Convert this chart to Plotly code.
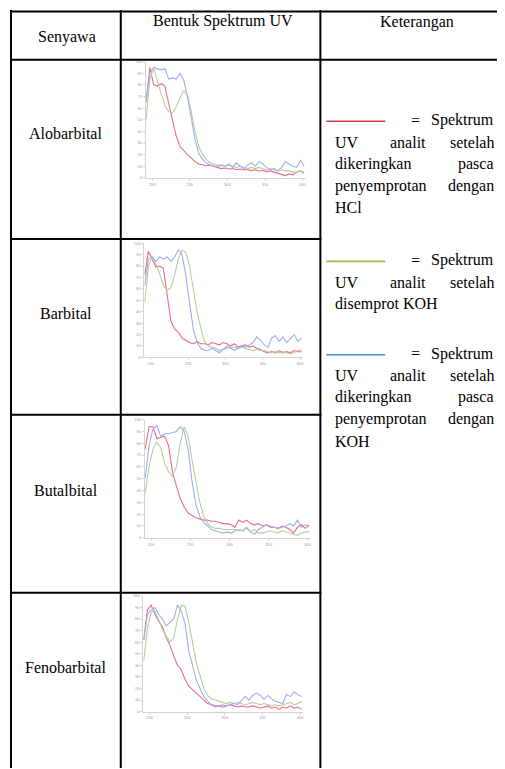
import plotly.graph_objects as go

# page body adds an 8px margin, so the figure is placed at (8, 8)
OFF = 8
W, H = 505 - OFF, 769 - OFF

# ---------------- data ----------------
wavelength = [192, 197, 202, 207, 212, 217, 222, 227, 232, 237, 242, 247, 252, 257, 262,
              267, 272, 277, 282, 287, 292, 297, 302, 307, 312, 317, 322, 327, 332, 337,
              342, 347, 352, 357, 362, 367, 372, 377, 382, 387, 392, 397, 402]

compounds = ["Alobarbital", "Barbital", "Butalbital", "Fenobarbital"]

# red: dried after HCl spray
alobarbital_hcl = [65, 95, 80, 79, 81, 79, 64, 49, 36, 27, 23, 20, 17, 14, 12, 11, 10.5, 11, 10, 9,
                   8, 8.5, 7.7, 8, 7, 7.7, 7, 7, 6.3, 7, 6, 6.5, 5.4, 6, 5, 4.3, 3, 2, 3.4, 2.6,
                   5, 6, 4.3]
# green: sprayed with KOH
alobarbital_koh = [50, 85, 94, 83, 71, 62, 57, 56, 61, 69, 75, 71, 57, 40, 27, 20, 16, 13, 12, 11,
                   11, 10, 11, 10, 9, 10, 9, 8, 9, 8, 9, 8, 7, 8, 7, 6, 7, 6, 6, 5, 5, 6, 5]
# blue: dried after KOH spray
alobarbital_koh_dry = [66, 90, 95, 94, 93, 94, 85, 86, 85, 90, 84, 70, 50, 33, 21, 16, 13, 11, 10, 10,
                       11, 10, 12, 9, 13, 10, 8, 11, 13, 10, 14, 12, 9, 7, 8, 6, 9, 14, 12, 10,
                       9, 15, 10]

barbital_hcl = [72, 93, 86, 79, 80, 78, 55, 32, 25, 22, 17, 15, 13, 12, 14, 12, 12, 11, 13, 12,
                11, 13, 12, 10, 12, 9, 10, 11, 9, 10, 8, 7, 5, 4, 5, 4, 6, 4, 5, 4, 6, 5, 5]
barbital_koh = [48, 80, 88, 82, 73, 63, 59, 61, 72, 86, 94, 92, 80, 60, 40, 26, 14, 10, 9, 8,
                6, 7, 8, 9, 9, 8, 9, 8, 7, 6, 7, 6, 6, 5, 4, 5, 4, 5, 4, 3, 4, 6, 7]
barbital_koh_dry = [63, 86, 88, 84, 88, 86, 88, 84, 88, 94, 90, 72, 48, 25, 13, 8, 6, 6, 8, 6,
                    4, 7, 10, 8, 6, 8, 10, 9, 11, 13, 18, 15, 11, 9, 17, 19, 14, 18, 13, 17,
                    20, 14, 17]

butalbital_hcl = [75, 94, 94, 84, 85, 86, 78, 56, 44, 33, 26, 21, 19, 17, 16, 15, 15, 14, 14, 13,
                  12, 12, 11, 9, 15, 13, 15, 12, 11, 12, 10, 11, 9, 9, 8, 10, 9, 7, 4, 9,
                  11, 8, 11]
butalbital_koh = [38, 60, 75, 81, 76, 63, 56, 52, 60, 80, 94, 86, 66, 47, 30, 18, 12, 9, 8, 8,
                  7, 7, 7, 7, 6, 6, 8, 5, 7, 4, 4, 5, 6, 5, 4, 6, 5, 4, 3, 2, 4, 5, 5]
butalbital_koh_dry = [50, 78, 92, 95, 86, 88, 88, 89, 90, 94, 90, 75, 48, 28, 18, 13, 10, 7, 6, 5,
                      4, 5, 4, 6, 7, 6, 9, 5, 3, 7, 9, 11, 10, 9, 8, 9, 10, 12, 10, 15,
                      9, 11, 10]

fenobarbital_hcl = [62, 88, 92, 84, 78, 73, 64, 57, 48, 40, 36, 28, 22, 19, 16, 13, 10, 7, 6, 5,
                    5, 4, 5, 6, 5, 4, 5, 4, 4, 5, 4, 3, 4, 5, 3, 4, 2, 4, 3, 5, 3, 4, 2]
fenobarbital_koh = [44, 72, 86, 87, 79, 71, 65, 60, 64, 80, 92, 91, 77, 58, 42, 31, 20, 14, 11, 10,
                    9, 8, 7, 8, 7, 8, 7, 6, 7, 8, 7, 6, 7, 6, 5, 6, 5, 6, 7, 8, 6, 7, 9]
fenobarbital_koh_dry = [62, 84, 88, 90, 84, 80, 74, 77, 80, 92, 87, 76, 52, 40, 27, 20, 13, 9, 6, 4,
                        5, 6, 5, 6, 7, 6, 10, 13, 10, 14, 16, 14, 11, 14, 11, 9, 8, 7, 15, 13,
                        17, 15, 13]

spectra = [
    (alobarbital_hcl, alobarbital_koh, alobarbital_koh_dry),
    (barbital_hcl, barbital_koh, barbital_koh_dry),
    (butalbital_hcl, butalbital_koh, butalbital_koh_dry),
    (fenobarbital_hcl, fenobarbital_koh, fenobarbital_koh_dry),
]

x_ticks = [200, 250, 300, 350, 400]
x_ticktext = ["200", "250", "300", "350", "400"]
y_ticks = [0, 10, 20, 30, 40, 50, 60, 70, 80, 90, 100]
y_ticktext = ["0", "10", "20", "30", "40", "50", "60", "70", "80", "90", "100"]

header_texts = ["Senyawa", "Bentuk Spektrum UV", "Keterangan"]

legend_blocks = [
    # (line colour, lines of justified words)
    ("#d03a3a", [["=", "Spektrum"], ["UV", "analit", "setelah"], ["dikeringkan", "pasca"],
                 ["penyemprotan", "dengan"], ["HCl"]]),
    ("#9bbb59", [["=", "Spektrum"], ["UV", "analit", "setelah"], ["disemprot KOH"]]),
    ("#3d8fd6", [["=", "Spektrum"], ["UV", "analit", "setelah"], ["dikeringkan", "pasca"],
                 ["penyemprotan", "dengan"], ["KOH"]]),
]

# ---------------- layout helpers (window pixel -> paper) ----------------
def px(x):
    return (x - OFF) / W


def py(y):
    return 1 - (y - OFF) / H


trace_colors = ["rgb(240,104,136)", "rgb(182,206,156)", "rgb(156,176,238)"]
series_names = ["HCl, dikeringkan", "disemprot KOH", "KOH, dikeringkan"]

# pixel boxes for each small chart: (left, right, top, bottom)
boxes = [
    (146.0, 306.3, 59.0, 176.0),
    (144.6, 303.7, 241.7, 356.7),
    (145.0, 311.4, 419.3, 538.3),
    (143.6, 303.7, 596.7, 713.3),
]

fig = go.Figure()
layout = dict(
    width=W, height=H, margin=dict(l=0, r=0, t=0, b=0),
    paper_bgcolor="white", plot_bgcolor="white", showlegend=False,
)

for i, (series, box) in enumerate(zip(spectra, boxes)):
    n = "" if i == 0 else str(i + 1)
    for vals, col, name in zip(series, trace_colors, series_names):
        fig.add_trace(go.Scatter(x=wavelength, y=vals, mode="lines", name=name,
                                 line=dict(color=col, width=1.1),
                                 xaxis="x" + n, yaxis="y" + n, hoverinfo="skip"))
    l, r, t, b = box
    layout["xaxis" + n] = dict(
        domain=[px(l), px(r)], anchor="y" + n, range=[191.5, 404],
        tickvals=x_ticks, ticktext=x_ticktext, showgrid=False, zeroline=False,
        showline=True, linecolor="#d4d4d4", linewidth=1, ticks="outside", ticklen=2,
        tickcolor="#d4d4d4", tickfont=dict(size=4, color="#9a9a9a", family="Liberation Sans"),
    )
    layout["yaxis" + n] = dict(
        domain=[py(b), py(t)], anchor="x" + n, range=[0, 100],
        tickvals=y_ticks, ticktext=y_ticktext, showgrid=False, zeroline=False,
        showline=True, linecolor="#d4d4d4", linewidth=1, ticks="outside", ticklen=2,
        tickcolor="#d4d4d4", tickfont=dict(size=4, color="#9a9a9a", family="Liberation Sans"),
    )

# ---------------- table grid ----------------
shapes = []


def hline(y, x0, x1, w=2, color="black"):
    shapes.append(dict(type="line", xref="paper", yref="paper", x0=px(x0), x1=px(x1),
                       y0=py(y), y1=py(y), line=dict(color=color, width=w)))


def vline(x, y0, y1, w=2, color="black"):
    shapes.append(dict(type="line", xref="paper", yref="paper", x0=px(x), x1=px(x),
                       y0=py(y0), y1=py(y1), line=dict(color=color, width=w)))


hline(8.5, 10, 506)
hline(57, 10, 506)
for yy in [237.5, 414.5, 593.5]:
    hline(yy, 10, 322)
for xx in [11, 121, 321]:
    vline(xx, 7, 770)

annotations = []
FONT = "Liberation Serif"


def text(s, x, y, anchor="center", size=16):
    annotations.append(dict(text=s, x=px(x), y=py(y), xref="paper", yref="paper",
                            xanchor=anchor, yanchor="middle", showarrow=False,
                            font=dict(family=FONT, size=size, color="black")))


# header
text(header_texts[0], 67, 34)
text(header_texts[1], 223, 18)
text(header_texts[2], 418, 19)

# compound names
for name, yy in zip(compounds, [131, 312, 491, 669]):
    text(name, 66, yy)

# legend blocks in the "Keterangan" column
block_tops = [119, 260, 354]
line_gap = 22
for (col, lines), y0 in zip(legend_blocks, block_tops):
    shapes.append(dict(type="line", xref="paper", yref="paper", x0=px(327), x1=px(386),
                       y0=py(y0), y1=py(y0), line=dict(color=col, width=1.6)))
    for k, words in enumerate(lines):
        yy = y0 + k * line_gap - 1
        if k == 0:
            text(words[0], 416, yy)
            text(words[1], 497, yy, anchor="right")
        elif len(words) == 3:
            text(words[0], 334, yy, anchor="left")
            text(words[1], 409, yy)
            text(words[2], 497, yy, anchor="right")
        elif len(words) == 2:
            text(words[0], 334, yy, anchor="left")
            text(words[1], 497, yy, anchor="right")
        else:
            text(words[0], 334, yy, anchor="left")

layout["shapes"] = shapes
layout["annotations"] = annotations
fig.update_layout(**layout)
fig.write_html("out.html")
